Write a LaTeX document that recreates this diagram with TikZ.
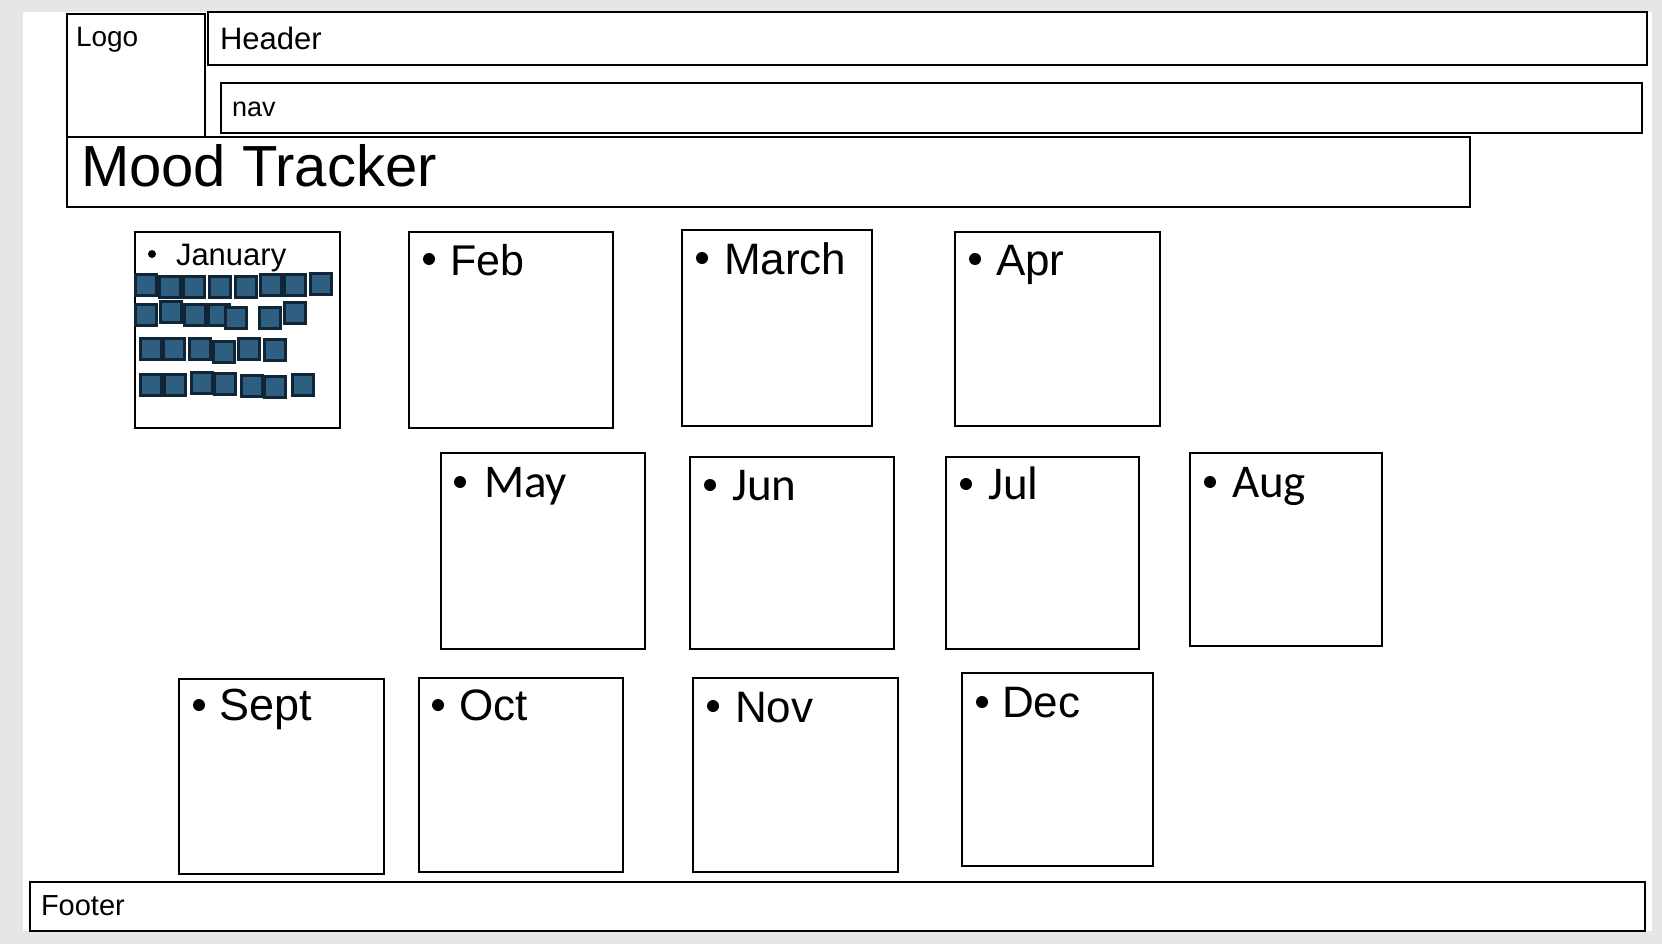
\documentclass[tikz,border=0pt]{standalone}
\usepackage{fontspec}
\setmainfont{Liberation Sans}
\newfontfamily\segoe{Carlito}
\definecolor{pagebg}{HTML}{E6E6E6}
\definecolor{sqfill}{HTML}{2F5F80}
\definecolor{sqline}{HTML}{102637}
\newcommand{\fsz}[1]{\fontsize{#1}{#1}\selectfont}
\tikzset{
  box/.style={draw=black, line width=1.4pt, inner sep=0pt, outer sep=0pt, anchor=north west, fill=white},
  lbl/.style={inner sep=0pt, outer sep=0pt, anchor=base west, text=black},
  bul/.style={circle, fill=black, inner sep=0pt, minimum size=12pt},
  sq/.style={draw=sqline, fill=sqfill, line width=2.6pt, minimum size=21pt, inner sep=0pt, anchor=center},
}
\begin{document}
\begin{tikzpicture}[x=1pt,y=-1pt]
\useasboundingbox (0,0) rectangle (1662,944);
\fill[pagebg] (0,0) rectangle (1662,944);
\fill[white] (23,12) rectangle (1652,931);

% header area
\node[box, minimum width=138pt, minimum height=123pt] (logo) at (67,14) {};
\node[lbl] (logot) at (76,47) {\fsz{28}Logo};
\node[box, minimum width=1439pt, minimum height=53pt] (header) at (208,12) {};
\node[lbl] (headert) at (220,50) {\fsz{31}Header};
\node[box, minimum width=1421pt, minimum height=50pt] (nav) at (221,83) {};
\node[lbl] (navt) at (232,117) {\fsz{27}nav};
\node[box, minimum width=1403pt, minimum height=70pt] (title) at (67,137) {};
\node[lbl] (titlet) at (81,187) {\fsz{58}Mood Tracker};

% footer
\node[box, minimum width=1615pt, minimum height=49pt] (footer) at (30,882) {};
\node[lbl] (footert) at (41,915) {\fsz{29}Footer};

% month boxes
\node[box, minimum width=205pt, minimum height=196pt] (jan) at (135,232) {};
\node[box, minimum width=204pt, minimum height=196pt] (feb) at (409,232) {};
\node[box, minimum width=190pt, minimum height=196pt] (mar) at (682,230) {};
\node[box, minimum width=205pt, minimum height=194pt] (apr) at (955,232) {};
\node[box, minimum width=204pt, minimum height=196pt] (may) at (441,453) {};
\node[box, minimum width=204pt, minimum height=192pt] (jun) at (690,457) {};
\node[box, minimum width=193pt, minimum height=192pt] (jul) at (946,457) {};
\node[box, minimum width=192pt, minimum height=193pt] (aug) at (1190,453) {};
\node[box, minimum width=205pt, minimum height=195pt] (sep) at (179,679) {};
\node[box, minimum width=204pt, minimum height=194pt] (oct) at (419,678) {};
\node[box, minimum width=205pt, minimum height=194pt] (nov) at (693,678) {};
\node[box, minimum width=191pt, minimum height=193pt] (dec) at (962,673) {};

% month labels
\node[bul, minimum size=8pt] (janb) at (152,254) {};
\node[lbl] (jant) at (176,265) {\fsz{31}January};
\node[bul] (febb) at (429,259) {};
\node[lbl] (febt) at (450,275) {\fsz{43}Feb};
\node[bul] (marb) at (702,258) {};
\node[lbl] (mart) at (724,274) {\fsz{44}March};
\node[bul] (aprb) at (975,259) {};
\node[lbl] (aprt) at (996,275) {\fsz{44}Apr};
\node[bul] (mayb) at (460,482) {};
\node[lbl] (mayt) at (484,497) {\segoe\fsz{47}May};
\node[bul] (junb) at (710,485) {};
\node[lbl] (junt) at (732,500) {\segoe\fsz{47}Jun};
\node[bul] (julb) at (966,484) {};
\node[lbl] (jult) at (988,499) {\segoe\fsz{47}Jul};
\node[bul] (augb) at (1210,482) {};
\node[lbl] (augt) at (1232,497) {\segoe\fsz{47}Aug};
\node[bul] (sepb) at (199,705) {};
\node[lbl] (sept) at (219,720) {\fsz{45}Sept};
\node[bul] (octb) at (438,705) {};
\node[lbl] (octt) at (459,720) {\fsz{44}Oct};
\node[bul] (novb) at (713,706) {};
\node[lbl] (novt) at (735,722) {\fsz{44}Nov};
\node[bul] (decb) at (982,702) {};
\node[lbl] (dect) at (1002,717) {\fsz{44}Dec};

% January mood squares
\foreach \x/\y [count=\i] in {146/285,170/287,194/287,220/287,246/287,271/285,295/285,321/284,
  146/315,171/312,195/315,219/315,236/318,270/318,295/313,
  151/349,174/349,200/349,224/352,249/349,275/350,
  151/385,175/385,202/383,225/384,252/386,275/387,303/385}
  \node[sq] (d\i) at (\x,\y) {};
\end{tikzpicture}
\end{document}
